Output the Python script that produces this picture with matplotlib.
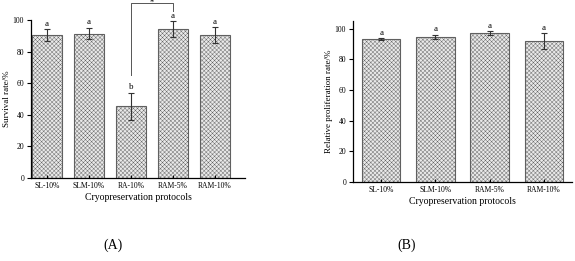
import matplotlib
matplotlib.use('Agg')
import matplotlib.pyplot as plt

plt.rcParams['font.family'] = ['Liberation Serif', 'DejaVu Serif']
plt.rcParams['hatch.linewidth'] = 0.3
plt.rcParams['hatch.color'] = '#c4c4c4'

# Panel A: survival rate
proto_a = ['SL-10%', 'SLM-10%', 'RA-10%', 'RAM-5%', 'RAM-10%']
surv = [90.5, 91.5, 45.5, 94.3, 90.5]
surv_err = [4.0, 3.7, 8.5, 5.0, 5.1]
letters_a = ['a', 'a', 'b', 'a', 'a']

# Panel B: relative proliferation rate
proto_b = ['SL-10%', 'SLM-10%', 'RAM-5%', 'RAM-10%']
prolif = [93.3, 94.6, 97.2, 92.0]
prolif_err = [0.5, 1.4, 1.2, 5.2]
letters_b = ['a', 'a', 'a', 'a']


def barras(ax, labels, vals, errs, letras, ylabel):
    x = list(range(len(labels)))
    ax.bar(x, vals, width=0.71, color='#e9e9e9', edgecolor='#606060',
           linewidth=0.8, hatch='xxxxxxxx')
    ax.errorbar(x, vals, yerr=errs, fmt='none', ecolor='#333333',
                elinewidth=0.8, capsize=2, capthick=0.8)
    for xi, v, e, l in zip(x, vals, errs, letras):
        ax.text(xi, v + e + 0.8, l, ha='center', va='bottom', fontsize=6.5)
    ax.set_xticks(x)
    ax.set_xticklabels(labels, fontsize=5.5)
    ax.set_yticks([0, 20, 40, 60, 80, 100])
    ax.tick_params(axis='y', direction='out', length=3, labelsize=5.5,
                   width=0.8, pad=2)
    ax.tick_params(axis='x', direction='in', length=2, width=0.8, pad=3)
    ax.spines['top'].set_visible(False)
    ax.spines['right'].set_visible(False)
    ax.spines['left'].set_linewidth(0.9)
    ax.spines['bottom'].set_linewidth(0.9)
    ax.set_xlabel('Cryopreservation protocols', fontsize=7, labelpad=2)
    ax.set_ylabel(ylabel, fontsize=6.5, labelpad=1)


fig = plt.figure(figsize=(5.75, 2.61), dpi=100)

ax1 = fig.add_axes([0.054, 0.318, 0.372, 0.605])
barras(ax1, proto_a, surv, surv_err, letters_a, 'Survival rate/%')
ax1.set_xlim(-0.38, 4.71)
ax1.set_ylim(0, 100)
# significance bracket between RA-10% and RAM-5%
ax1.plot([2, 2, 3, 3], [65, 110.8, 110.8, 106], color='#555555',
         linewidth=0.7, clip_on=False)
ax1.text(2.5, 110.8, '*', ha='center', va='center', fontsize=6)

ax2 = fig.add_axes([0.614, 0.303, 0.381, 0.617])
barras(ax2, proto_b, prolif, prolif_err, letters_b, 'Relative proliferation rate/%')
ax2.set_xlim(-0.52, 3.52)
ax2.set_ylim(0, 105)

fig.text(0.197, 0.06, '(A)', ha='center', va='center', fontsize=10)
fig.text(0.708, 0.06, '(B)', ha='center', va='center', fontsize=10)

fig.savefig('out.png', dpi=100)
